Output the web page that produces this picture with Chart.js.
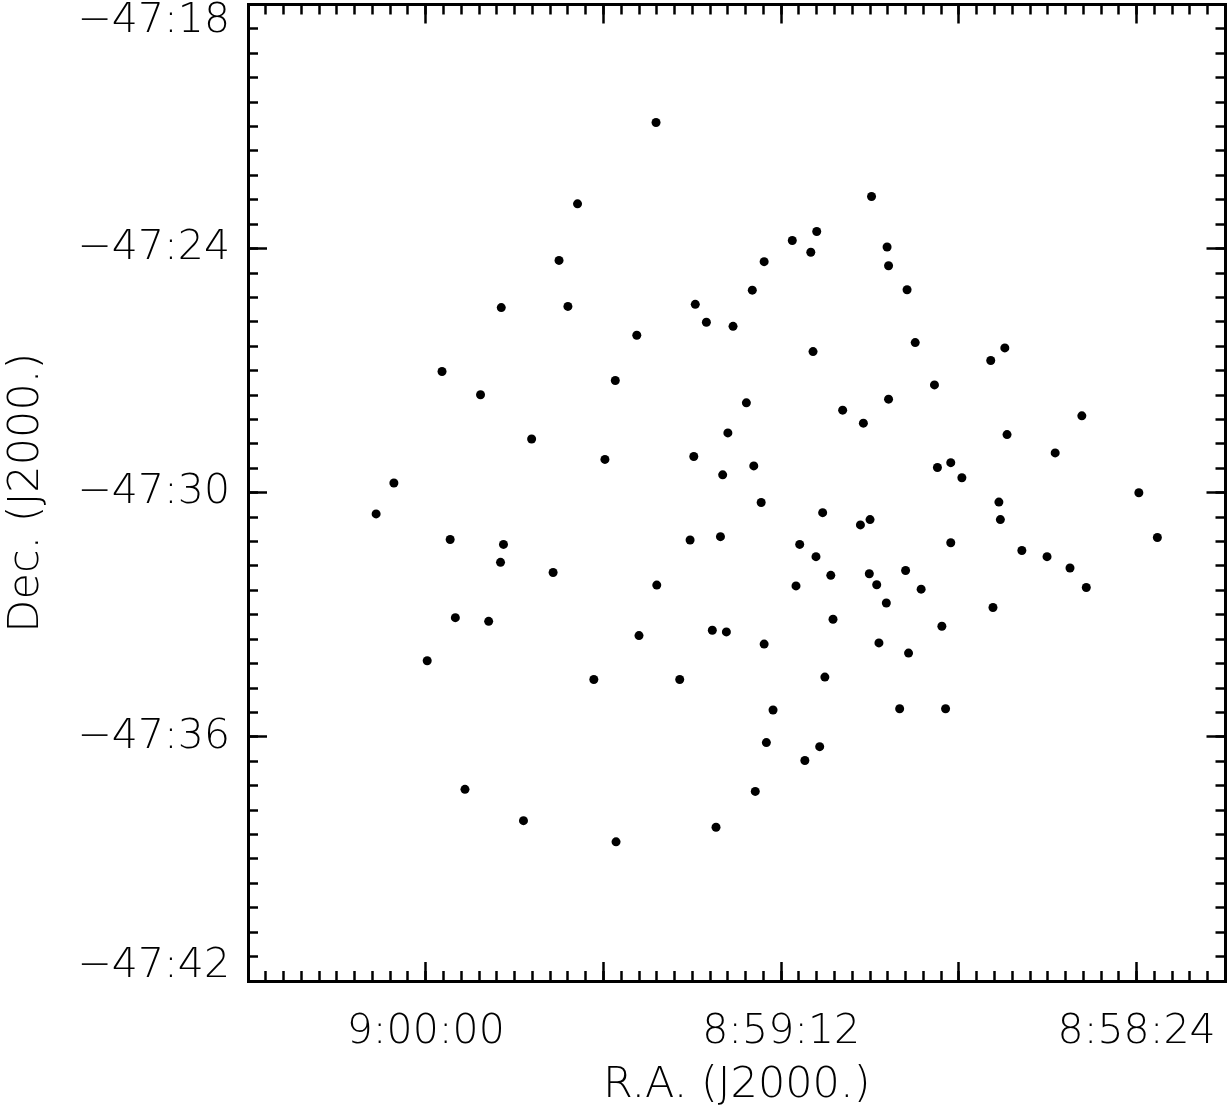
<!DOCTYPE html>
<html>
<head>
<meta charset="utf-8">
<script src="https://cdn.jsdelivr.net/npm/chart.js@4.4.0/dist/chart.umd.min.js"></script>
<style>
  html, body { margin: 0; padding: 0; background: #fff; }
  #c { display: block; }
</style>
</head>
<body>
<canvas id="c" width="1230" height="1110"></canvas>
<script>
// R.A. in seconds after 8:58:00, Dec. in arcmin south of -47:00
const raSec = [
  88.9, 59.8, 99.5, 67.2, 70.5, 68.0, 57.7, 102.0, 74.3, 57.5,
  75.9, 55.0, 83.6, 109.8, 100.8, 82.1, 78.5, 91.5, 53.9, 41.8,
  67.7, 43.7, 117.8, 94.4, 51.3, 112.6, 57.5, 76.7, 31.4, 63.7,
  60.9, 79.2, 41.5, 105.7, 35.0, 83.8, 95.8, 49.1, 50.9, 75.7,
  47.6, 79.9, 124.3, 23.7, 74.7, 42.6, 126.7, 66.4, 42.4, 60.0,
  61.3, 116.7, 21.2, 80.2, 84.3, 109.5, 69.5, 49.1, 39.5, 67.3,
  36.1, 109.9, 33.0, 102.8, 60.1, 65.3, 55.2, 59.1, 88.8, 70.0,
  30.8, 53.1, 57.8, 43.4, 116.0, 111.5, 65.0, 50.3, 81.3, 79.4,
  91.2, 74.3, 58.8, 54.8, 119.8, 97.3, 85.7, 66.1, 73.1, 56.0,
  49.8, 74.0, 66.8, 68.8, 114.7, 75.5, 106.8, 80.8, 94.3
];
const decMin = [
  20.90, 22.72, 22.90, 23.58, 23.80, 24.09, 23.96, 24.29, 24.32, 24.42,
  25.02, 25.01, 25.37, 25.45, 25.42, 25.81, 25.91, 26.13, 26.31, 26.44,
  26.53, 26.75, 27.02, 27.24, 27.35, 27.59, 27.70, 27.79, 28.11, 27.97,
  28.29, 28.53, 28.57, 28.68, 29.02, 29.11, 29.18, 29.26, 29.38, 29.34,
  29.63, 29.56, 29.76, 30.00, 30.24, 30.23, 30.52, 30.49, 30.66, 30.66,
  30.79, 31.15, 31.10, 31.08, 31.16, 31.27, 31.27, 31.23, 31.42, 31.57,
  31.57, 31.71, 31.85, 31.96, 31.99, 32.03, 31.91, 32.26, 32.27, 32.29,
  32.33, 32.37, 32.71, 32.82, 33.07, 33.16, 33.11, 33.28, 33.38, 33.42,
  33.51, 33.72, 33.69, 33.94, 34.13, 34.59, 34.59, 34.53, 35.34, 35.31,
  35.31, 36.14, 36.24, 36.58, 37.29, 37.34, 38.06, 38.22, 38.58
];

// axes
const raRange = [12, 144];
const raTickValues = [24, 72, 120];
const raTickLabels = ['8:58:24', '8:59:12', '9:00:00'];
const raMajor = [24, 48, 72, 96, 120, 144];
const raMinorStep = 2.4;

const decRange = [18, 42];
const decTickValues = [18, 24, 30, 36, 42];
const decTickLabels = ['\u221247:18', '\u221247:24', '\u221247:30', '\u221247:36', '\u221247:42'];
const decMinorStep = 0.6;

function steps(from, to, step) {
  const out = [];
  for (let v = from; v <= to + 1e-9; v += step) out.push(+v.toFixed(4));
  return out;
}

// make a scale take a fixed room, no extra padding
const fitTo = n => s => {
  if (s.isHorizontal()) s.height = n; else s.width = n;
  s.paddingLeft = s.paddingRight = s.paddingTop = s.paddingBottom = 0;
};

const tickFont = { family: 'DejaVu Sans', size: 41, weight: 200, lineHeight: 1 };
const titleFont = { family: 'DejaVu Sans', size: 43, weight: 200, lineHeight: 1 };

function tickAxis(axis, position, values, len) {
  const r = axis === 'x' ? raRange : decRange;
  return {
    type: 'linear', axis: axis, position: position, weight: 0, reverse: true,
    min: r[0], max: r[1],
    afterBuildTicks: s => { s.ticks = values.map(v => ({ value: v })); },
    afterFit: fitTo(0),
    grid: { drawOnChartArea: false, drawTicks: true, tickLength: -len, tickWidth: 2.5, tickColor: '#000' },
    border: { display: true, color: '#000', width: 3 },
    ticks: { display: false }
  };
}

const raMinor = steps(raRange[0], raRange[1], raMinorStep);
const decMinor = steps(decRange[0], decRange[1], decMinorStep);

// nudge the end labels inside the frame, like the original
const decLabelAt = decTickValues.map((v, i) =>
  i === 0 ? v + 0.42 : i === decTickValues.length - 1 ? v - 0.35 : v);

new Chart(document.getElementById('c'), {
  type: 'scatter',
  data: {
    datasets: [{
      data: raSec.map((r, i) => ({ x: r, y: decMin[i] })),
      xAxisID: 'x', yAxisID: 'y',
      pointRadius: 4.5, pointHoverRadius: 4.5,
      backgroundColor: '#000', borderWidth: 0
    }]
  },
  options: {
    responsive: false,
    animation: false,
    layout: { padding: { top: 1, right: 2, left: 0, bottom: 0 } },
    plugins: { legend: { display: false }, tooltip: { enabled: false } },
    scales: {
      x: {
        type: 'linear', axis: 'x', position: 'bottom', weight: 1, reverse: true,
        min: raRange[0], max: raRange[1],
        afterBuildTicks: s => { s.ticks = raTickValues.map(v => ({ value: v })); },
        afterFit: fitTo(129),
        grid: { display: false, drawTicks: false },
        border: { display: false },
        ticks: {
          autoSkip: false, maxRotation: 0, minRotation: 0, padding: 31,
          font: tickFont, color: '#000',
          callback: (v, i) => raTickLabels[i]
        },
        title: { display: true, text: 'R.A. (J2000.)', font: titleFont, color: '#000', padding: { top: 0, bottom: 3 } }
      },
      y: {
        type: 'linear', axis: 'y', position: 'left', weight: 1, reverse: true,
        min: decRange[0], max: decRange[1],
        afterBuildTicks: s => { s.ticks = decLabelAt.map(v => ({ value: v })); },
        afterFit: fitTo(248),
        grid: { display: false, drawTicks: false },
        border: { display: false },
        ticks: {
          autoSkip: false, padding: 18,
          font: tickFont, color: '#000',
          callback: (v, i) => decTickLabels[i]
        },
        title: { display: true, text: 'Dec. (J2000.)', font: titleFont, color: '#000', padding: { top: 5, bottom: 0 } }
      },
      xMaj: tickAxis('x', 'bottom', raMajor, 19),
      xMin: tickAxis('x', 'bottom', raMinor, 10),
      xTopMaj: tickAxis('x', 'top', raMajor, 19),
      xTopMin: tickAxis('x', 'top', raMinor, 10),
      yMaj: tickAxis('y', 'left', decTickValues, 19),
      yMin: tickAxis('y', 'left', decMinor, 10),
      yRMaj: tickAxis('y', 'right', decTickValues, 19),
      yRMin: tickAxis('y', 'right', decMinor, 10)
    }
  }
});
</script>
</body>
</html>
